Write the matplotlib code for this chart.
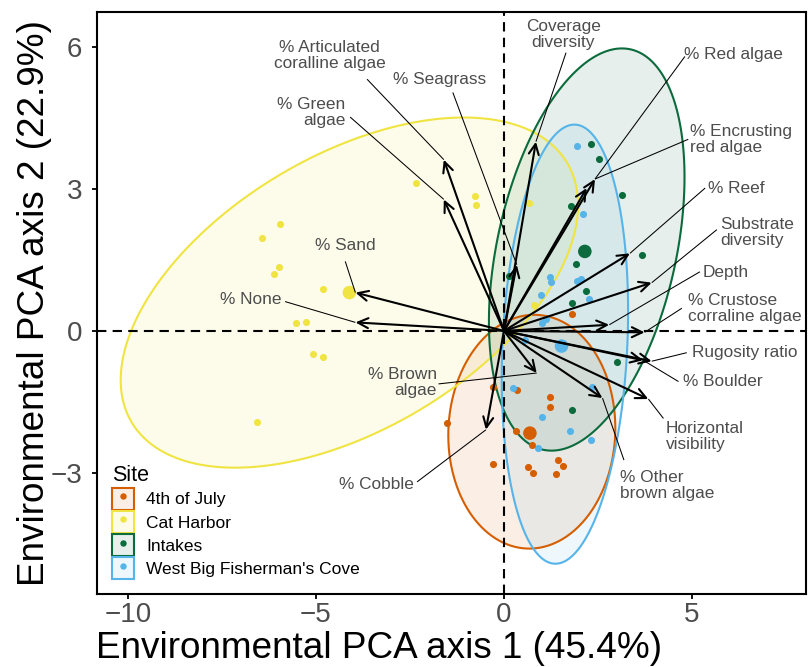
import numpy as np
import matplotlib
matplotlib.use("Agg")
import matplotlib.pyplot as plt
from matplotlib.patches import FancyArrowPatch, Rectangle, Polygon
from matplotlib.lines import Line2D
from matplotlib.colors import to_rgba

plt.rcParams['font.family'] = ['Liberation Sans', 'DejaVu Sans']

# ---------------- data ----------------
sites = ["4th of July", "Cat Harbor", "Intakes", "West Big Fisherman's Cove"]
site_colors = ["#D55E00", "#F0E442", "#0B6B3C", "#56B4E9"]

july_x = [1.82, -0.28, 0.34, 1.22, 1.22, -1.52, 0.32, 0.74, -0.30, 0.63, 0.78, 1.44, 1.58, 1.38]
july_y = [0.36, -1.19, -1.25, -1.39, -1.60, -1.95, -2.11, -2.41, -2.81, -2.87, -3.01, -2.73, -2.85, -3.02]

cat_x = [-2.34, -0.78, -0.74, -5.95, -6.43, -5.97, -6.11, -4.82, -5.53, -5.27, -5.09, -4.81, -6.57, 0.66, 0.80]
cat_y = [3.13, 2.86, 2.67, 2.25, 1.97, 1.35, 1.21, 0.89, 0.17, 0.18, -0.49, -0.56, -1.93, 2.71, 0.55]

intakes_x = [2.31, 2.52, 3.15, 1.77, 3.68, 1.91, 2.17, 1.82, 0.13, 3.00, 1.81]
intakes_y = [3.95, 3.63, 2.88, 2.63, 1.61, 1.42, 0.85, 0.59, 1.17, -0.66, -1.67]

wbfc_x = [1.95, 2.11, 1.22, 1.25, 0.98, 1.95, 2.04, 2.27, 1.00, 1.12, 0.56, 0.25, 2.33, 1.00, 1.76, 2.31, 0.91]
wbfc_y = [3.90, 2.47, 1.15, 1.04, 0.76, 1.06, 1.09, 0.67, 0.16, 0.25, -0.19, -1.21, -1.18, -1.81, -2.11, -2.30, -2.48]

# site centroids (large points)
centroid_x = [0.69, -4.11, 2.15, 1.53]
centroid_y = [-2.16, 0.81, 1.68, -0.32]

# 95% ellipses: centre, half-width (x), half-height (y), correlation
ell_cx = [0.74, -4.11, 2.20, 1.62]
ell_cy = [-2.13, 0.81, 1.72, -0.28]
ell_sx = [2.22, 6.08, 2.60, 1.68]
ell_sy = [2.47, 3.70, 4.25, 4.64]
ell_r = [0.03, 0.50, 0.36, 0.15]

# loading arrows
var_names = ["% Articulated\ncoralline algae", "% Seagrass", "% Green\nalgae", "% Sand", "% None",
             "Coverage\ndiversity", "% Red algae", "% Encrusting\nred algae", "% Reef",
             "Substrate\ndiversity", "Depth", "% Crustose\ncorraline algae", "Rugosity ratio",
             "% Boulder", "Horizontal\nvisibility", "% Other\nbrown algae", "% Brown\nalgae", "% Cobble"]
load_x = [-1.60, 0.34, -1.60, -3.95, -3.95, 0.85, 2.42, 2.20, 3.35, 3.93, 2.80, 3.74, 3.93, 3.70, 3.84, 2.62, 0.87, -0.48]
load_y = [3.62, 1.40, 2.78, 0.81, 0.18, 4.00, 3.21, 3.02, 1.64, 1.02, 0.13, -0.03, -0.64, -0.62, -1.44, -1.42, -0.89, -2.09]

# ---------------- layout for labels (repelled positions) ----------------
lab_x = [-4.63, -1.70, -4.22, -4.23, -6.73, 1.58, 6.11, 4.95, 6.19, 5.74, 5.90, 4.90, 6.41, 5.83, 4.30, 3.09, -1.78, -3.39]
lab_y = [5.82, 5.32, 4.62, 1.81, 0.67, 6.26, 5.84, 4.04, 3.00, 2.08, 1.23, 0.48, -0.45, -1.07, -2.23, -3.26, -1.09, -3.24]
lab_ha = ["center", "center", "right", "center", "center", "center", "center", "left", "center",
          "left", "center", "left", "center", "center", "left", "left", "right", "center"]
seg_x = [-3.64, -1.36, -4.09, -4.22, -5.82, 1.65, 4.81, 4.90, 5.35, 5.66, 5.21, 4.73, 4.86, 4.64, 4.24, 3.19, -1.74, -2.31]
seg_y = [5.32, 5.04, 4.52, 1.47, 0.62, 5.88, 5.80, 4.05, 3.02, 2.14, 1.25, 0.48, -0.46, -1.07, -1.85, -2.73, -1.12, -3.19]
red_tip = 6  # both red-algae labels point at the same arrowhead

# ---------------- figure ----------------
fig = plt.figure(figsize=(8.09, 6.67), dpi=100)
ax = fig.add_axes([97 / 809, 73 / 667, 709 / 809, 582 / 667])
ax.set_xlim(-10.82, 8.03)
ax.set_ylim(-5.56, 6.74)

# ellipses
t = np.linspace(0, 2 * np.pi, 400)
for cx, cy, sx, sy, r, col in zip(ell_cx, ell_cy, ell_sx, ell_sy, ell_r, site_colors):
    M = np.array([[sx ** 2, r * sx * sy], [r * sx * sy, sy ** 2]])
    L = np.linalg.cholesky(M)
    pts = (L @ np.vstack([np.cos(t), np.sin(t)])).T + np.array([cx, cy])
    ax.add_patch(Polygon(pts, closed=True, facecolor=to_rgba(col, 0.1), edgecolor='none', zorder=1))
    ax.add_patch(Polygon(pts, closed=True, facecolor='none', edgecolor=col, lw=1.5, zorder=1.2))

# reference lines
ax.axhline(0, color='black', lw=1.5, ls=(0, (4.5, 3.0)), zorder=1.5)
ax.axvline(0, color='black', lw=1.5, ls=(0, (4.5, 3.0)), zorder=1.5)

# points
groups = [(july_x, july_y), (cat_x, cat_y), (intakes_x, intakes_y), (wbfc_x, wbfc_y)]
for (gx, gy), col in zip(groups, site_colors):
    ax.scatter(gx, gy, s=26, color=col, linewidths=0, zorder=3)
ax.scatter(centroid_x, centroid_y, s=95, color=site_colors, linewidths=0, zorder=3)

# arrows
for xv, yv in zip(load_x, load_y):
    arr = FancyArrowPatch((0, 0), (xv, yv), arrowstyle="->,head_length=7.5,head_width=3.6",
                          mutation_scale=1, lw=1.5, color='black', shrinkA=0, shrinkB=0,
                          zorder=4, capstyle='round', joinstyle='miter')
    ax.add_patch(arr)

# labels with leader segments
for i, name in enumerate(var_names):
    tx, ty = load_x[i], load_y[i]
    if i == 7:
        tx, ty = load_x[red_tip], load_y[red_tip]
    ax.plot([seg_x[i], tx], [seg_y[i], ty], color='black', lw=0.75, zorder=5, solid_capstyle='butt')
    ax.text(lab_x[i], lab_y[i], name, ha=lab_ha[i], va='center', multialignment=lab_ha[i],
            fontsize=12.4, color='#4d4d4d', linespacing=1.08, zorder=6)

# axes styling
ax.set_xticks([-10, -5, 0, 5])
ax.set_yticks([-3, 0, 3, 6])
for sp in ax.spines.values():
    sp.set_linewidth(1.5)
ax.tick_params(axis='both', direction='out', length=3.5, width=1.3, labelsize=20, labelcolor='#4d4d4d')
ax.tick_params(axis='x', pad=2.5)
ax.tick_params(axis='y', pad=7)

ax.set_xlabel("Environmental PCA axis 1 (45.4%)", fontsize=26.6, color='black')
ax.set_ylabel("Environmental PCA axis 2 (22.9%)", fontsize=26.6, color='black')
ax.xaxis.set_label_coords(0.398, -0.064)
ax.yaxis.set_label_coords(-0.063, 0.5)

# legend
handles = []
for col in site_colors:
    box = Rectangle((0, 0), 1, 1, facecolor=to_rgba(col, 0.1), edgecolor=col, lw=1.5)
    dot = Line2D([], [], marker='o', color=col, ls='', markersize=4.6, markeredgewidth=0)
    handles.append((box, dot))
leg = ax.legend(handles, sites, title="Site", loc='lower left', bbox_to_anchor=(0.0216, 0.025),
                frameon=False, fontsize=12.5, title_fontsize=15.5, borderpad=0, borderaxespad=0,
                handlelength=1.27, handleheight=1.57, handletextpad=0.68, labelspacing=0.075,
                alignment='left')
leg.set_zorder(7)

fig.savefig("out.png", dpi=100)
